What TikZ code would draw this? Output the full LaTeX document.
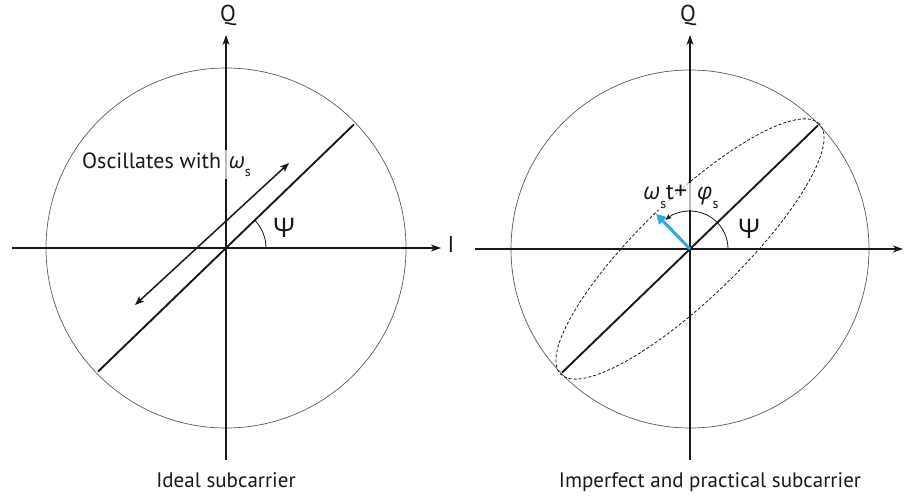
\documentclass[tikz,border=0pt]{standalone}
\usepackage{fontspec}
\setmainfont{PT Sans}
\newfontfamily\gkfont{Open Sans}
\usetikzlibrary{arrows.meta}
\definecolor{axiscol}{RGB}{25,25,25}
\definecolor{circcol}{RGB}{90,90,90}
\definecolor{bluevec}{RGB}{41,171,226}
\newcommand{\gkit}[1]{{\gkfont\itshape #1}}
\newcommand{\mysubs}[1]{\raisebox{-0.4em}{\fontsize{14}{14}\selectfont #1}}
\begin{document}
\begin{tikzpicture}[x=1pt,y=1pt,
  lbl/.style={font=\fontsize{23}{27}\selectfont, text=axiscol, inner sep=0pt},
  captext/.style={font=\fontsize{21}{25}\selectfont, text=axiscol, inner sep=0pt},
  psilbl/.style={font=\gkfont\fontsize{27}{30}\selectfont, text=axiscol, inner sep=0pt},
  txtbox/.style={font=\fontsize{23}{27}\selectfont, text=axiscol, fill=white, fill opacity=0.7, text opacity=1, inner sep=2pt},
  axisline/.style={line width=1.8pt, draw=axiscol, -{Stealth[length=10pt,width=7pt,inset=3pt]}},
  circ/.style={line width=0.7pt, draw=circcol},
  diag/.style={line width=1.9pt, draw=axiscol},
  dblarrow/.style={line width=1.5pt, draw=axiscol, {Stealth[length=9pt,width=7pt,inset=2pt]}-{Stealth[length=9pt,width=7pt,inset=2pt]}},
  anglearc/.style={line width=0.8pt, draw=axiscol},
  ell/.style={line width=0.8pt, draw=axiscol, dash pattern=on 3pt off 2pt},
  vec/.style={line width=3pt, draw=bluevec, -{Triangle[length=10pt,width=10pt]}}
]
\useasboundingbox (0,0) rectangle (912,499);
% ---------- left panel ----------
\coordinate (L) at (226,251);
\coordinate (Lw) at (12,251);
\coordinate (Le) at (441,251);
\coordinate (Ls) at (226,39);
\coordinate (Ln) at (226,464);
\coordinate (Ld1) at ([shift={(224:178)}]L);
\coordinate (Ld2) at ([shift={(44:178)}]L);
\coordinate (A1) at (135,194);
\coordinate (A2) at (289,336);
\coordinate (La) at ([shift={(0:40)}]L);
\draw[circ] (L) circle[radius=180];
\draw[axisline] (Lw) -- (Le);
\draw[axisline] (Ls) -- (Ln);
\draw[diag] (Ld1) -- (Ld2);
\draw[dblarrow] (A1) -- (A2);
\draw[anglearc] (La) arc[start angle=0, end angle=44, radius=40];
\node[txtbox, font=\fontsize{22}{26}\selectfont, anchor=base west] (osc) at (80,331) {Oscillates with\hspace{0.35em}\gkit{ω}\mysubs{s}};
\node[psilbl] (psiL) at (284,271) {Ψ};
\node[lbl] (qL) at (228,484) {Q};
\node[lbl] (iL) at (451,255) {I};
\node[captext, anchor=base] (capL) at (226,12) {Ideal subcarrier};
% ---------- right panel ----------
\coordinate (R) at (690,250);
\coordinate (Rw) at (475,250);
\coordinate (Re) at (903,250);
\coordinate (Rs) at (690,39);
\coordinate (Rn) at (690,464);
\coordinate (Rd1) at ([shift={(224:178)}]R);
\coordinate (Rd2) at ([shift={(44:178)}]R);
\coordinate (Ra) at ([shift={(0:38)}]R);
\coordinate (Rv) at ([shift={(134:49)}]R);
\draw[circ] (R) circle[radius=179];
\draw[axisline] (Rw) -- (Re);
\draw[axisline] (Rs) -- (Rn);
\draw[ell, rotate around={44:(R)}] (R) ellipse[x radius=180, y radius=50];
\draw[diag] (Rd1) -- (Rd2);
\draw[anglearc, -{Stealth[length=6pt,width=5pt,inset=1.5pt]}] (Ra) arc[start angle=0, end angle=130, radius=38];
\draw[vec] (R) -- (Rv);
\node[txtbox, anchor=base] (phase) at (681,300) {\gkit{ω}\mysubs{s}t{\fontsize{26}{27}\selectfont +}\, \gkit{φ}\mysubs{s}};
\node[psilbl] (psiR) at (749,270) {Ψ};
\node[lbl] (qR) at (688,484) {Q};
\node[captext, anchor=base] (capR) at (710,12) {Imperfect and practical subcarrier};
\end{tikzpicture}
\end{document}
